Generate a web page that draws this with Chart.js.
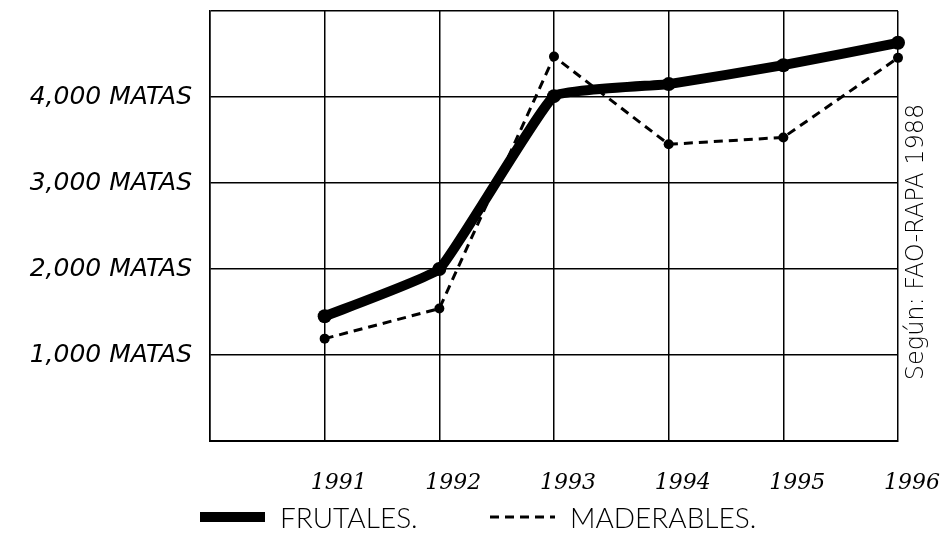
<!DOCTYPE html>
<html>
<head>
<meta charset="utf-8">
<script src="https://cdn.jsdelivr.net/npm/chart.js@4.4.1/dist/chart.umd.min.js"></script>
<style>
  html, body { margin: 0; padding: 0; background: #fff; }
  #wrap { width: 941px; height: 548px; }
</style>
</head>
<body>
<div id="wrap"><canvas id="c" width="941" height="548"></canvas></div>
<script>
// values
const years = [1991, 1992, 1993, 1994, 1995, 1996];
const frutales = [1450, 2000, 4010, 4150, 4370, 4630];
const maderables = [1190, 1540, 4470, 3450, 3530, 4455];
const yTickValues = [1000, 2000, 3000, 4000];
const yTickUnit = 'MATAS';
const sourceNote = 'Según: FAO-RAPA 1988';

const toPoints = vals => years.map((y, i) => ({ x: y, y: vals[i] }));

// rotated source note on the right side of the plot
const sourcePlugin = {
  id: 'sourceNote',
  afterDraw(chart) {
    const { ctx, chartArea } = chart;
    ctx.save();
    ctx.translate(chartArea.right + 19, 242);
    ctx.rotate(-Math.PI / 2);
    ctx.font = '200 24px "DejaVu Sans"';
    ctx.fillStyle = '#000';
    ctx.textAlign = 'center';
    ctx.textBaseline = 'middle';
    ctx.fillText(sourceNote, 0, 0);
    ctx.restore();
  }
};

// legend under the year labels, line samples taken from the datasets
const legendPlugin = {
  id: 'handLegend',
  afterDraw(chart) {
    const { ctx } = chart;
    const slots = [{ x: 200 }, { x: 490 }];
    const y = 517;
    ctx.save();
    ctx.font = '300 28px Lato';
    ctx.fillStyle = '#000';
    ctx.textBaseline = 'middle';
    chart.data.datasets.forEach((ds, i) => {
      const x = slots[i].x;
      ctx.beginPath();
      ctx.strokeStyle = ds.borderColor;
      ctx.lineWidth = ds.borderWidth;
      ctx.setLineDash(ds.borderDash || []);
      ctx.moveTo(x, y);
      ctx.lineTo(x + 65, y);
      ctx.stroke();
      ctx.fillText(ds.label, x + 80, y + 2);
    });
    ctx.restore();
  }
};

new Chart(document.getElementById('c'), {
  type: 'line',
  data: {
    datasets: [
      {
        label: 'FRUTALES.',
        data: toPoints(frutales),
        borderColor: '#000',
        backgroundColor: '#000',
        borderWidth: 10,
        pointRadius: 7,
        pointBackgroundColor: '#000',
        pointBorderWidth: 0,
        tension: 0.1
      },
      {
        label: 'MADERABLES.',
        data: toPoints(maderables),
        borderColor: '#000',
        backgroundColor: '#000',
        borderWidth: 3,
        borderDash: [9, 6],
        pointRadius: 5,
        pointBackgroundColor: '#000',
        pointBorderWidth: 0,
        tension: 0
      }
    ]
  },
  options: {
    responsive: false,
    animation: false,
    clip: false,
    layout: { padding: { left: 10, right: 43, top: 11, bottom: 0 } },
    plugins: {
      tooltip: { enabled: false },
      legend: { display: false }
    },
    scales: {
      x: {
        type: 'linear',
        min: 1990,
        max: 1996,
        afterFit: s => { s.height = 107; s.paddingLeft = 0; s.paddingRight = 0; },
        ticks: {
          stepSize: 1,
          color: '#000',
          padding: 29,
          labelOffset: 14,
          font: { family: 'DejaVu Serif', size: 22, style: 'italic' },
          callback: v => (years.includes(v) ? String(v) : '')
        },
        grid: { color: '#000', lineWidth: 1.5, drawTicks: false },
        border: { color: '#000', width: 2 }
      },
      y: {
        min: 0,
        max: 5000,
        afterFit: s => { s.width = 200; s.paddingTop = 0; s.paddingBottom = 0; },
        ticks: {
          stepSize: 1000,
          color: '#000',
          padding: 18,
          font: { family: 'DejaVu Sans', size: 25, style: 'italic', weight: '200' },
          callback: v => (yTickValues.includes(v) ? v.toLocaleString('en-US') + ' ' + yTickUnit : '')
        },
        grid: { color: '#000', lineWidth: 1.5, drawTicks: false },
        border: { color: '#000', width: 1.5 }
      }
    }
  },
  plugins: [sourcePlugin, legendPlugin]
});
</script>
</body>
</html>
